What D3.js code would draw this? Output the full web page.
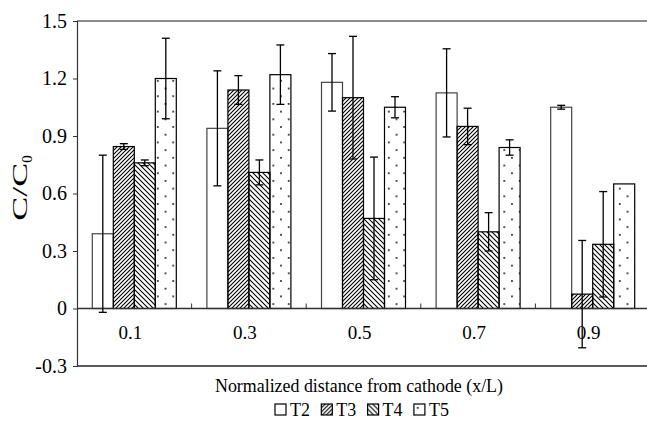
<!DOCTYPE html>
<html>
<head>
<meta charset="utf-8">
<script src="https://cdn.jsdelivr.net/npm/d3@7"></script>
<style>
  body { margin: 0; background: #fff; }
  text { font-family: "Liberation Serif", "Times New Roman", serif; fill: #000; }
</style>
</head>
<body>
<div id="chart"></div>
<script>
// categories and series
var categories = ["0.1", "0.3", "0.5", "0.7", "0.9"];
var seriesNames = ["T2", "T3", "T4", "T5"];
var valuesT2 = [0.39, 0.94, 1.18, 1.125, 1.05];
var valuesT3 = [0.845, 1.14, 1.10, 0.95, 0.075];
var valuesT4 = [0.76, 0.71, 0.47, 0.40, 0.335];
var valuesT5 = [1.20, 1.22, 1.05, 0.84, 0.65];
var errT2 = [0.41, 0.30, 0.15, 0.23, 0.01];
var errT3 = [0.015, 0.075, 0.32, 0.095, 0.28];
var errT4 = [0.015, 0.065, 0.32, 0.10, 0.275];
var errT5 = [0.21, 0.155, 0.055, 0.04, 0];
var yTicks = [-0.3, 0, 0.3, 0.6, 0.9, 1.2, 1.5];

var W = 647, H = 427;
var plotLeft = 77, plotTop = 21, plotBottom = 366, bandW = 114.6;

var svg = d3.select("#chart").append("svg")
  .attr("width", W).attr("height", H);

// fill patterns
var defs = svg.append("defs");
var p3 = defs.append("pattern").attr("id", "pT3").attr("patternUnits", "userSpaceOnUse")
  .attr("width", 4).attr("height", 4);
p3.append("path").attr("d", "M-1,1 L1,-1 M0,4 L4,0 M3,5 L5,3")
  .attr("stroke", "#000").attr("stroke-width", 1.1);
var p4 = defs.append("pattern").attr("id", "pT4").attr("patternUnits", "userSpaceOnUse")
  .attr("width", 5).attr("height", 5);
p4.append("path").attr("d", "M-1,4 L1,6 M0,0 L5,5 M4,-1 L6,1")
  .attr("stroke", "#000").attr("stroke-width", 1.1);
var p5 = defs.append("pattern").attr("id", "pT5").attr("patternUnits", "userSpaceOnUse")
  .attr("width", 15.4).attr("height", 15.4);
p5.append("rect").attr("x", 3).attr("y", 3).attr("width", 1.6).attr("height", 1.6).attr("fill", "#000");
p5.append("rect").attr("x", 10.7).attr("y", 10.7).attr("width", 1.6).attr("height", 1.6).attr("fill", "#000");

var fills = {"T2": "#fff", "T3": "url(#pT3)", "T4": "url(#pT4)", "T5": "url(#pT5)"};
var strokes = {"T2": "#444", "T3": "#000", "T4": "#000", "T5": "#000"};

// scales
var x0 = d3.scaleBand().domain(categories).range([plotLeft, plotLeft + bandW * categories.length]);
var x1 = d3.scaleBand().domain(seriesNames).range([15.3, 99.3]);
var y = d3.scaleLinear().domain([-0.3, 1.5]).range([plotBottom, plotTop]);

// data rows
var vals = [valuesT2, valuesT3, valuesT4, valuesT5];
var errs = [errT2, errT3, errT4, errT5];
var bars = [];
categories.forEach(function(c, i) {
  seriesNames.forEach(function(s, j) {
    bars.push({cat: c, name: s, value: vals[j][i], err: errs[j][i]});
  });
});

// frame lines (top, bottom)
svg.append("line").attr("x1", plotLeft).attr("x2", W).attr("y1", plotTop).attr("y2", plotTop)
  .attr("stroke", "#666").attr("stroke-width", 1.5);
svg.append("line").attr("x1", plotLeft).attr("x2", W).attr("y1", plotBottom).attr("y2", plotBottom)
  .attr("stroke", "#222").attr("stroke-width", 1.5);

// y axis (plain hyphen for the negative label, as in the original)
var yaxis = d3.axisLeft(y).tickValues(yTicks).tickSize(4).tickPadding(6)
  .tickFormat(function(d) { return d === 0 ? "0" : d.toFixed(1); });
var gy = svg.append("g").attr("transform", "translate(" + plotLeft + ",0)").call(yaxis);
gy.select(".domain").attr("stroke", "#333").attr("stroke-width", 1.2);
gy.selectAll(".tick line").attr("stroke", "#333");
gy.selectAll("text").style("font-size", "20px").style("font-family", "Liberation Serif");

// bars
var g = svg.append("g");
g.selectAll("rect.bar").data(bars).enter().append("rect")
  .attr("class", "bar")
  .attr("x", function(d) { return x0(d.cat) + x1(d.name); })
  .attr("width", x1.bandwidth())
  .attr("y", function(d) { return Math.min(y(d.value), y(0)); })
  .attr("height", function(d) { return Math.abs(y(0) - y(d.value)); })
  .attr("fill", function(d) { return fills[d.name]; })
  .attr("stroke", function(d) { return strokes[d.name]; })
  .attr("stroke-width", 1.2);

// zero line with category ticks
svg.append("line").attr("x1", plotLeft).attr("x2", W).attr("y1", y(0)).attr("y2", y(0))
  .attr("stroke", "#333").attr("stroke-width", 1.5);
var gx = svg.append("g").attr("transform", "translate(0," + y(0) + ")");
gx.selectAll("line.sep").data(categories).enter().append("line")
  .attr("class", "sep")
  .attr("x1", function(d) { return x0(d) + bandW; }).attr("x2", function(d) { return x0(d) + bandW; })
  .attr("y1", 0).attr("y2", -5).attr("stroke", "#333");
gx.selectAll("text.cat").data(categories).enter().append("text")
  .attr("class", "cat")
  .attr("x", function(d) { return x0(d) + x0.bandwidth() / 2 - 4; })
  .attr("y", 30).attr("text-anchor", "middle")
  .style("font-size", "19px").text(function(d) { return d; });

// error bars
var eb = svg.append("g").attr("stroke", "#000").attr("stroke-width", 1.3);
bars.filter(function(d) { return d.err > 0; }).forEach(function(d) {
  var cx = x0(d.cat) + x1(d.name) + x1.bandwidth() / 2;
  var y1 = y(d.value + d.err), y2 = y(d.value - d.err);
  eb.append("line").attr("x1", cx).attr("x2", cx).attr("y1", y1).attr("y2", y2);
  eb.append("line").attr("x1", cx - 4).attr("x2", cx + 4).attr("y1", y1).attr("y2", y1);
  eb.append("line").attr("x1", cx - 4).attr("x2", cx + 4).attr("y1", y2).attr("y2", y2);
});

// axis titles
var yt = svg.append("text").attr("transform", "translate(27,188) rotate(-90)")
  .attr("text-anchor", "middle").style("font-size", "21px");
yt.append("tspan").attr("textLength", 58).attr("lengthAdjust", "spacingAndGlyphs").text("C/C");
yt.append("tspan").attr("dy", 5).style("font-size", "15px").text("0");

svg.append("text").attr("x", 359).attr("y", 392).attr("text-anchor", "middle")
  .attr("textLength", 288).attr("lengthAdjust", "spacingAndGlyphs")
  .style("font-size", "19px").text("Normalized distance from cathode (x/L)");

// legend
var lg = svg.append("g").attr("transform", "translate(275,404)");
seriesNames.forEach(function(s, i) {
  var item = lg.append("g").attr("transform", "translate(" + (i * 46.3) + ",0)");
  item.append("rect").attr("width", 11).attr("height", 11)
    .attr("fill", fills[s]).attr("stroke", "#000").attr("stroke-width", 1.2);
  item.append("text").attr("x", 15).attr("y", 11.5).style("font-size", "18px").text(s);
});
</script>
</body>
</html>
